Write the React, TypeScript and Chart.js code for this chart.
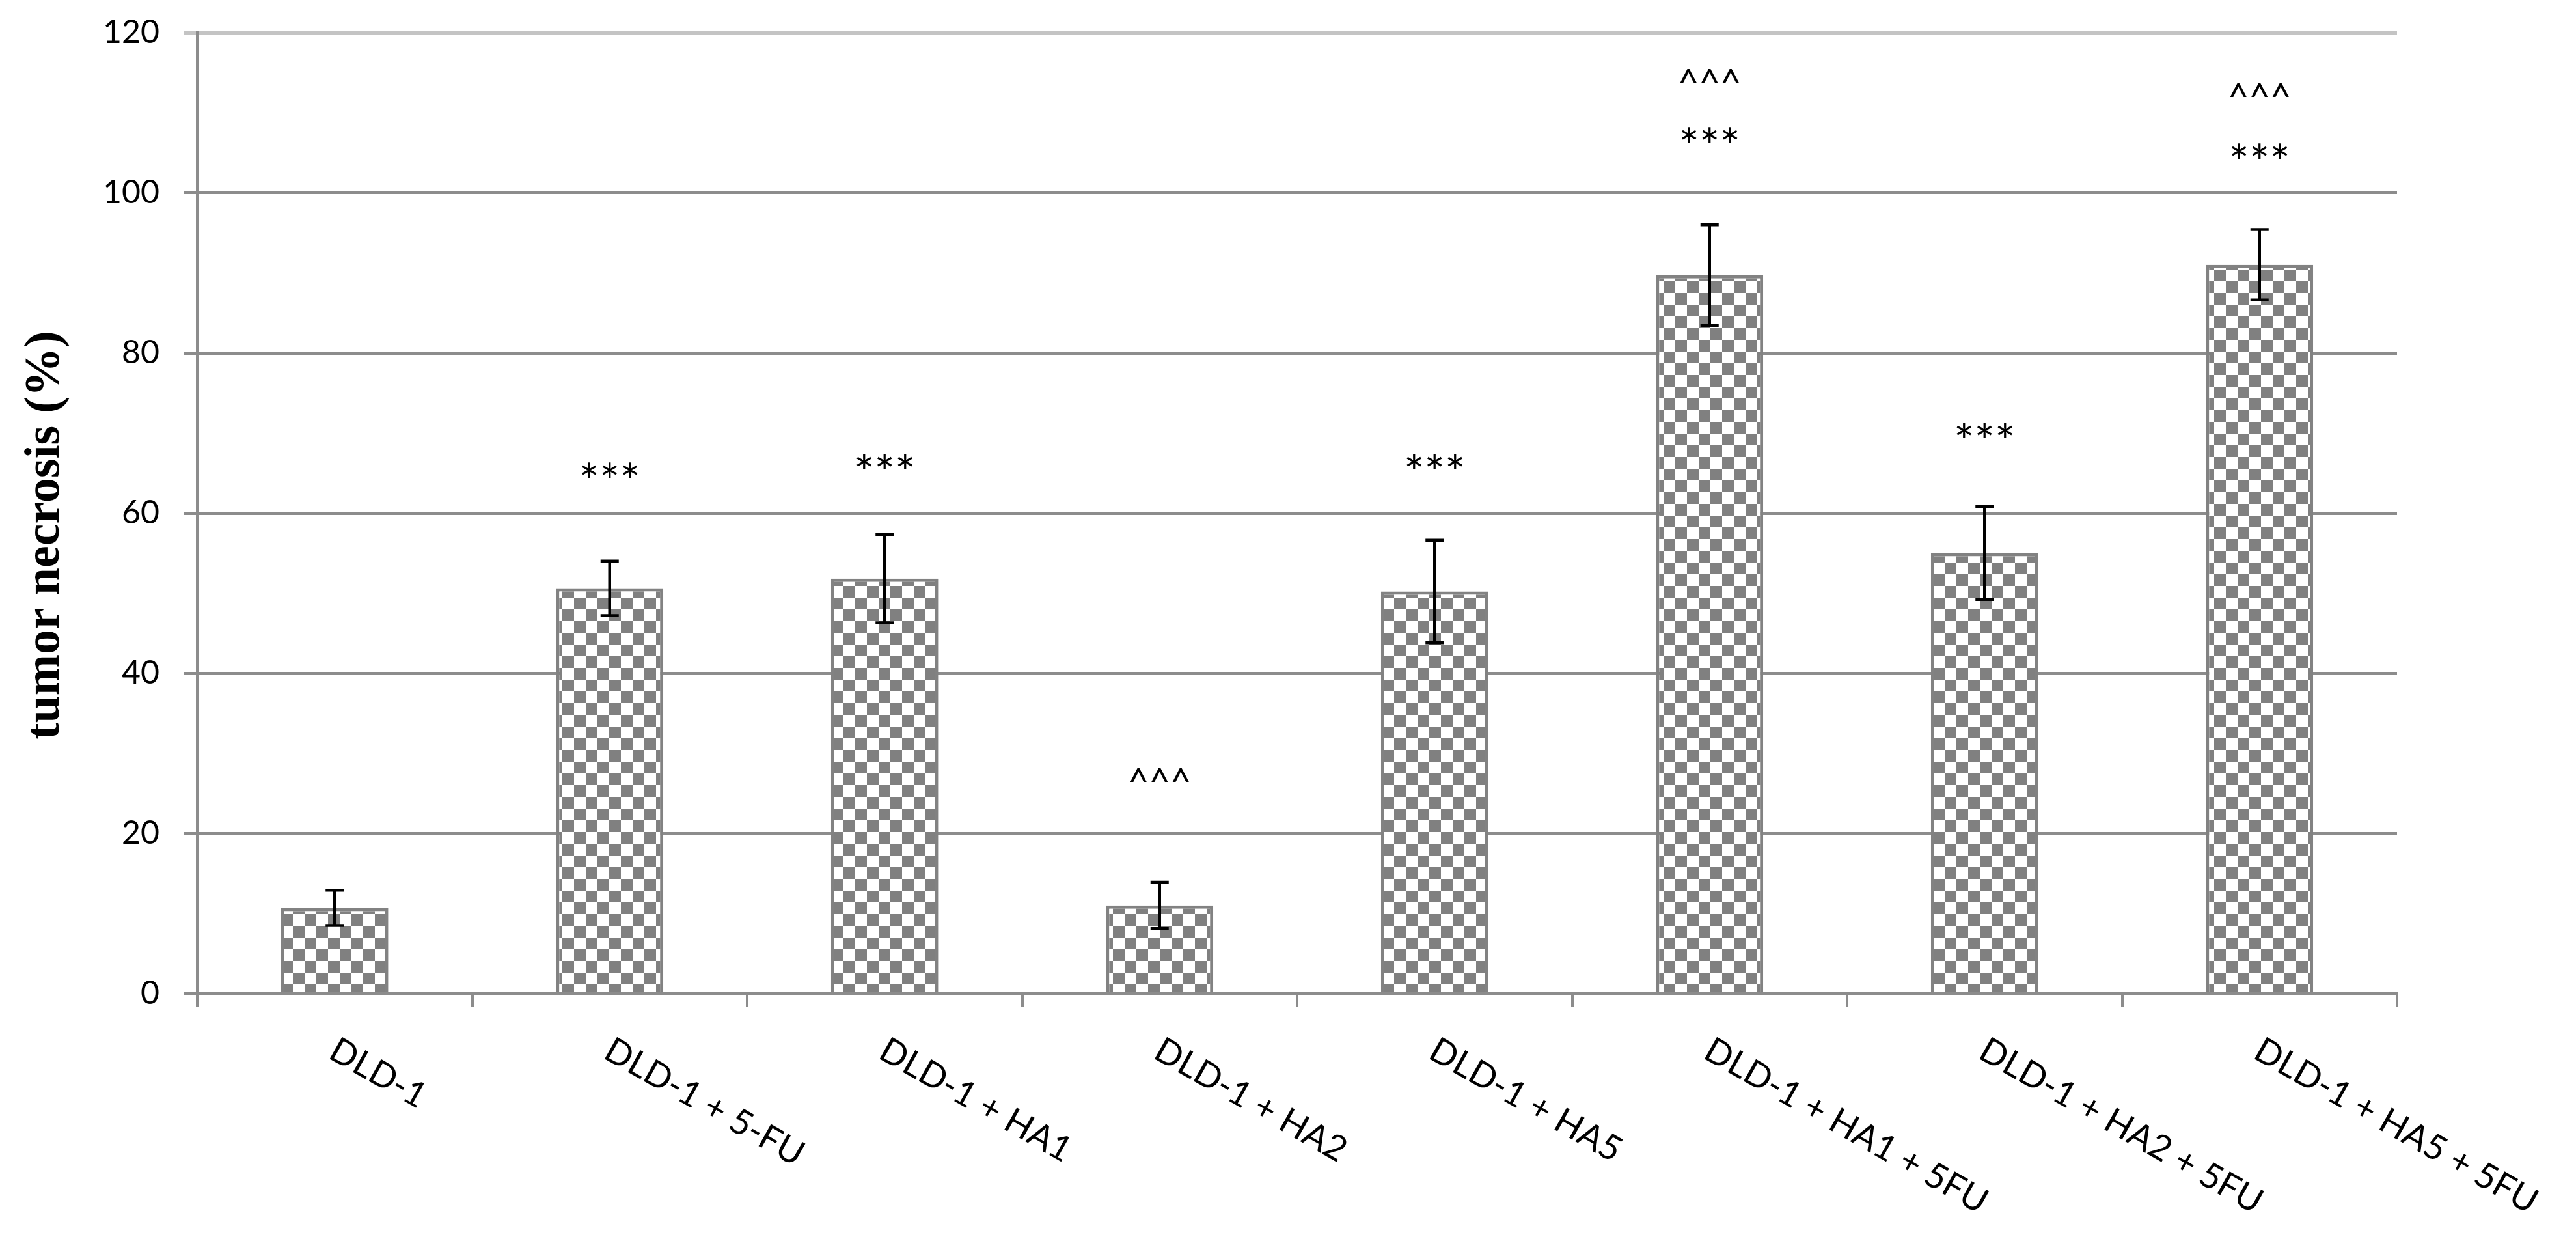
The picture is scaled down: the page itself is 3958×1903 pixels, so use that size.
import React, { useEffect, useRef } from 'react';
import { Chart, registerables } from 'chart.js';

Chart.register(...registerables);

// ---- data ----
const categories = [
  'DLD-1',
  'DLD-1 + 5-FU',
  'DLD-1 + HA1',
  'DLD-1 + HA2',
  'DLD-1 + HA5',
  'DLD-1 + HA1 + 5FU',
  'DLD-1 + HA2 + 5FU',
  'DLD-1 + HA5 + 5FU',
];
const necrosis = [10.7, 50.6, 51.8, 11.0, 50.2, 89.7, 55.0, 91.0];
const errorSize = [2.2, 3.4, 5.5, 2.9, 6.4, 6.3, 5.8, 4.4];
const yTicks = [0, 20, 40, 60, 80, 100, 120];
// significance marks: value level of each mark's centre (null = none)
const starMark = '***';
const starLevel = [null, 65.4, 66.4, null, 66.4, 107.2, 70.3, 105.2];
const caretMark = '^^^';
const caretLevel = [null, null, null, 27.3, null, 114.6, null, 112.8];
const yTitle = 'tumor necrosis (%)';

const W = 3958;
const H = 1903;
const GRID = '#8c8c8c';
const LABEL_FONT = '"Lato", "Open Sans", sans-serif';

function makeChecker(): CanvasPattern | string {
  const c = document.createElement('canvas');
  const s = 18;
  c.width = s * 2;
  c.height = s * 2;
  const g = c.getContext('2d');
  if (!g) return '#888';
  g.fillStyle = '#ffffff';
  g.fillRect(0, 0, s * 2, s * 2);
  g.fillStyle = '#808080';
  g.fillRect(0, 0, s, s);
  g.fillRect(s, s, s, s);
  const p = g.createPattern(c, 'repeat');
  return p || '#888';
}

const overlayPlugin = {
  id: 'overlay',
  afterDatasetsDraw(chart: any) {
    const { ctx, scales } = chart;
    const x = scales.x;
    const y = scales.y;
    ctx.save();
    // error bars
    ctx.strokeStyle = '#000';
    ctx.lineWidth = 4.5;
    ctx.lineCap = 'butt';
    necrosis.forEach((v, i) => {
      const cx = x.getPixelForValue(i);
      const yt = y.getPixelForValue(v + errorSize[i]);
      const yb = y.getPixelForValue(v - errorSize[i]);
      const half = 14;
      ctx.beginPath();
      ctx.moveTo(cx, yt);
      ctx.lineTo(cx, yb);
      ctx.moveTo(cx - half, yt);
      ctx.lineTo(cx + half, yt);
      ctx.moveTo(cx - half, yb);
      ctx.lineTo(cx + half, yb);
      ctx.stroke();
    });
    // significance marks
    ctx.fillStyle = '#000';
    ctx.textAlign = 'center';
    ctx.textBaseline = 'alphabetic';
    const drawCentered = (txt: string, cx: number, cy: number) => {
      const m = ctx.measureText(txt);
      const base = cy + (m.actualBoundingBoxAscent - m.actualBoundingBoxDescent) / 2;
      ctx.fillText(txt, cx, base);
    };
    categories.forEach((_, i) => {
      const cx = x.getPixelForValue(i);
      const s = starLevel[i];
      if (s !== null) {
        ctx.font = `74px ${LABEL_FONT}`;
        drawCentered(starMark, cx, y.getPixelForValue(s));
      }
      const c = caretLevel[i];
      if (c !== null) {
        ctx.font = `56px ${LABEL_FONT}`;
        drawCentered(caretMark, cx, y.getPixelForValue(c));
      }
    });
    ctx.restore();
  },
  afterDraw(chart: any) {
    const { ctx, scales } = chart;
    const x = scales.x;
    const y = scales.y;
    ctx.save();
    // rotated category labels, running down to the right
    ctx.fillStyle = '#000';
    ctx.font = `54px ${LABEL_FONT}`;
    ctx.textAlign = 'left';
    ctx.textBaseline = 'alphabetic';
    const ang = (29.5 * Math.PI) / 180;
    categories.forEach((lab, i) => {
      const cx = x.getPixelForValue(i);
      ctx.save();
      ctx.translate(cx - 12, y.bottom + 98);
      ctx.rotate(ang);
      ctx.fillText(lab, 0, 0);
      ctx.restore();
    });
    // y axis title
    ctx.font = 'bold 76px "Liberation Serif", "Times New Roman", serif';
    ctx.textAlign = 'center';
    ctx.textBaseline = 'middle';
    ctx.translate(70, 822);
    ctx.rotate(-Math.PI / 2);
    ctx.fillText(yTitle, 0, 0);
    ctx.restore();
  },
};

export default function App() {
  const ref = useRef<HTMLCanvasElement | null>(null);

  useEffect(() => {
    const canvas = ref.current;
    if (!canvas) return;
    const chart = new Chart(canvas, {
      type: 'bar',
      data: {
        labels: categories,
        datasets: [
          {
            data: necrosis,
            backgroundColor: makeChecker(),
            borderColor: '#828282',
            borderWidth: 5,
            categoryPercentage: 1,
            barPercentage: 0.39,
          },
        ],
      },
      options: {
        responsive: false,
        animation: false,
        devicePixelRatio: 1,
        layout: { padding: { left: 0, top: 50, right: 275, bottom: 0 } },
        plugins: {
          legend: { display: false },
          tooltip: { enabled: false },
          title: { display: false },
        },
        scales: {
          x: {
            type: 'category',
            offset: true,
            grid: {
              offset: true,
              drawOnChartArea: false,
              drawTicks: true,
              tickLength: 20,
              color: GRID,
              lineWidth: 4,
            },
            border: { display: true, color: GRID, width: 5 },
            ticks: { display: false },
            afterFit(scale: any) {
              scale.height = H - 1526;
              scale.paddingLeft = 0;
              scale.paddingRight = 0;
            },
          },
          y: {
            min: 0,
            max: 120,
            afterBuildTicks(scale: any) {
              scale.ticks = yTicks.map((v) => ({ value: v }));
            },
            grid: {
              color: (c: any) => (c.tick && c.tick.value === 120 ? '#c4c4c4' : GRID),
              lineWidth: 5,
              tickLength: 20,
              drawTicks: true,
            },
            border: { display: true, color: GRID, width: 5 },
            ticks: {
              color: '#000',
              padding: 38,
              font: { family: LABEL_FONT, size: 50 },
            },
            afterFit(scale: any) {
              scale.width = 303;
              scale.paddingTop = 0;
              scale.paddingBottom = 0;
            },
          },
        },
      },
      plugins: [overlayPlugin],
    });
    return () => chart.destroy();
  }, []);

  return (
    <div style={{ position: 'absolute', left: 0, top: 0, width: W, height: H, background: '#fff' }}>
      <canvas ref={ref} width={W} height={H} style={{ display: 'block', width: W, height: H }} />
    </div>
  );
}
